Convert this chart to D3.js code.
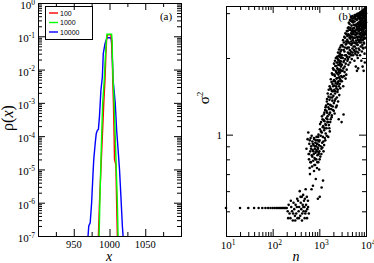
<!DOCTYPE html>
<html>
<head>
<meta charset="utf-8">
<title>rho(x) and sigma^2</title>
<style>
    html, body {margin: 0px; padding: 0px; overflow: hidden; background: #ffffff;}
    svg {display: block; font-family: "Liberation Serif", serif;}
    .frame {fill: none; stroke: #000; stroke-width: 1px;}
    .tick line {stroke: #000; stroke-width: 1px;}
    .domain {display: none;}
</style>
</head>
<body>
<div id="chart"></div>
<script src="https://cdnjs.cloudflare.com/ajax/libs/d3/7.8.5/d3.min.js"></script>
<script>
// panel (a): rho(x) for three run lengths, [x, rho]
var seriesNames = ["100", "1000", "10000"];
var seriesColors = ["#ff0000", "#00ff00", "#0000ff"];

var rho100 = [[984.5,1e-7],[986,1e-6],[988,1e-5],[990,1e-4],[992,1e-3],[993.7,5e-3],[995,3e-2],[996,0.08],
    [997,0.11],[1002,0.11],[1003,0.07],[1004,2e-2],[1004.5,5e-3],[1005.5,1e-3],[1006.5,1e-4],[1007,2e-5],
    [1008.5,1.5e-5],[1009,1.2e-5],[1010,1e-6],[1011,1e-7]];
var rho1000 = [[985.5,1e-7],[986.5,1e-6],[987.7,1e-5],[989,1e-4],[990.5,1e-3],[992.7,5e-3],[994,2e-2],[995.5,0.07],
    [996.5,0.115],[1003,0.115],[1003.7,0.07],[1004.2,2e-2],[1005,5e-3],[1006.5,1e-3],[1008,1e-4],[1009.5,1e-5],
    [1011,1e-6],[1012,1e-7]];
var rho10000 = [[970,1e-7],[971,2e-7],[973,2.5e-7],[975,1e-6],[977,8e-6],[978,2e-5],[980,6e-5],[981.5,1.2e-4],
    [983,1.5e-4],[984.5,1.6e-4],[986,4e-4],[988,2.4e-3],[990,6e-3],[991.3,3e-2],[993.7,6e-2],[996,0.085],
    [997,0.09],[1001.5,0.09],[1002.5,0.08],[1003.5,0.04],[1005,5e-3],[1008,1e-3],[1010,1.5e-4],[1012,4e-5],
    [1014,1e-5],[1016,1.5e-6],[1018,2e-7],[1019,1e-7]];

var xTicksA = [950, 1000, 1050];
var xMinorA = [925, 975, 1025, 1075];
var yExpA = [-7, -6, -5, -4, -3, -2, -1, 0];

// panel (b): sigma^2 against n, [n, sigma2]
var sigmaPoints = [
    [10,.515],[20,.515],[30,.515],[40,.515],[50,.515],[60,.515],[70,.515],[80,.515],[90,.515],[100,.515],
    [110,.515],[120,.515],[130,.515],[140,.515],[150,.515],[160,.515],[170,.515],[180,.515],[190,.515],[200,.515],
    [210,.50],[220,.53],[230,.49],[240,.47],[250,.52],[260,.50],[270,.46],[280,.54],[290,.51],[300,.48],
    [310,.53],[320,.49],[330,.52],[340,.47],[350,.55],[360,.50],[370,.52],[380,.60],[390,.48],[400,.54],
    [410,.51],[420,.57],[430,.49],[440,.53],[450,.58],[460,.50],[470,.55],[480,.52],[490,.56],[500,.49],
    [510,.61],[520,.53],[530,.88],[540,.57],[550,.51],[560,.96],[570,.55],[580,1.02],[590,.84],
    [215,.47],[245,.55],[275,.49],[305,.46],[335,.56],[365,.47],[395,.57],[425,.46],[455,.52],[485,.47],
    [515,.50],[545,.47],[575,.52],[595,.49],
    [600,.80],[610,.92],[620,.74],[630,.70],[640,.86],[650,.97],[660,.78],[670,.90],[680,.61],[690,.83],
    [700,.75],[710,.94],[720,.87],[730,.63],[740,.79],[750,.91],[760,.84],[770,.72],[780,.96],[790,.81],
    [800,.88],[810,.76],[820,.93],[830,.85],[840,.67],[850,.90],[860,.80],[870,.98],[880,.86],[890,.74],
    [900,.92],[910,.83],[920,.95],[930,.56],[940,.88],[950,.78],[960,1.00],[970,.84],[980,.91],[990,.73],
    [605,.84],[625,.95],[645,.78],[665,.88],[685,.99],[705,.82],[725,.92],[745,.86],[765,.97],[785,.76],
    [805,.90],[825,.80],[845,.95],[865,.87],[885,.92],[905,.78],[925,.89],[945,.98],[965,.85],[985,.94],
    [1000,.86],[1020,.57],[1120,.62],[1200,.66],
    [1010,.95],[1030,1.05],[1050,.82],[1070,.99],[1090,1.12],[1110,.88],[1130,1.02],[1150,.93],[1170,1.15],
    [1190,.98],[1210,1.08],[1230,.86],[1250,1.20],[1270,1.04],[1290,1.13],[1310,.97],[1330,1.25],[1350,1.10],
    [1370,1.01],[1390,1.30],[1410,1.16],[1430,1.06],[1450,1.35],[1470,1.22],[1490,1.12],
    [1015,.80],[1040,1.10],[1065,.90],[1085,1.03],[1105,.84],[1140,1.18],[1160,.89],[1185,1.07],[1220,.94],
    [1240,1.14],[1265,.91],[1285,1.22],[1305,1.06],[1340,.95],[1360,1.28],[1385,1.09],[1420,1.24],[1440,.99],
    [1460,1.38],[1485,1.15],
    [1500,1.18],[1525,1.32],[1550,0.98],[1575,1.41],[1600,1.09],[1625,1.26],[1650,1.37],[1675,1.03],[1700,1.22],
    [1725,1.52],[1750,1.15],[1775,1.44],[1800,1.30],[1825,1.61],[1850,1.19],[1875,1.48],[1900,1.36],[1925,1.72],
    [1950,1.25],[1975,1.55],[2000,1.42],[2025,1.80],[2050,1.33],[2075,1.64],[2100,1.50],[2125,1.21],[2150,1.70],
    [2175,1.45],[2200,1.86],[2225,1.38],[2250,1.59],[2275,1.28],[2300,1.76],[2325,1.52],[2350,1.92],[2375,1.40],
    [2400,1.67],[2425,1.82],[2450,1.47],[2475,1.98],[2500,1.60],[2525,1.35],[2550,1.88],[2575,1.72],[2600,2.04],
    [2625,1.55],[2650,1.80],[2675,1.43],[2700,1.95],[2725,1.66],[2750,2.08],[2775,1.75],[2800,1.52],[2825,1.90],
    [2850,2.12],[2875,1.62],[2900,1.85],[2925,2.00],[2950,1.70],[2975,2.15],[2600,1.15],[3000,1.12],[3300,1.20],
    [1512,1.45],[1537,1.12],[1562,1.28],[1587,1.50],[1612,1.20],[1637,1.06],[1662,1.55],[1687,1.31],[1712,1.12],
    [1737,1.40],[1762,1.65],[1787,1.26],[1812,1.50],[1837,1.17],[1862,1.74],[1887,1.40],[1912,1.58],[1937,1.29],
    [1962,1.82],[1987,1.48],[2012,1.62],[2037,1.24],[2062,1.90],[2087,1.56],[2112,1.72],[2137,1.36],[2162,1.95],
    [2187,1.62],[2212,1.48],[2237,1.78],[2262,2.00],[2287,1.55],[2312,1.86],[2337,1.66],[2362,1.30],[2387,2.02],
    [2412,1.74],[2437,1.58],[2462,1.92],[2487,1.50],[2512,2.10],[2537,1.80],[2562,1.62],[2587,1.96],[2612,1.76],
    [2637,2.16],[2662,1.68],[2687,1.88],[2712,2.02],[2737,1.58],[2762,1.92],[2787,2.20],[2812,1.80],[2837,1.64],
    [2862,2.06],[2887,1.94],[2912,2.24],[2937,1.78],[2962,2.04],[2987,1.88],
    [3050,1.62],[3100,2.05],[3150,1.78],[3200,2.22],[3250,1.55],[3300,1.93],[3350,2.30],[3400,1.70],[3450,2.12],
    [3500,1.85],[3550,2.40],[3600,1.98],[3650,1.66],[3700,2.26],[3750,2.05],[3800,2.48],[3850,1.80],[3900,2.18],
    [3950,2.36],[4000,1.95],
    [3025,1.88],[3075,2.25],[3125,1.68],[3175,2.00],[3225,2.35],[3275,1.82],[3325,2.15],[3375,1.95],[3425,2.42],
    [3475,1.76],[3525,2.20],[3575,2.05],[3625,2.50],[3675,1.90],[3725,2.32],[3775,1.72],[3825,2.28],[3875,2.55],
    [3925,2.02],[3975,2.44],
    [4050,2.55],[4100,2.10],[4150,2.32],[4200,1.88],[4250,2.64],[4300,2.20],[4350,2.45],[4400,2.02],[4450,2.72],
    [4500,2.28],[4550,1.92],[4600,2.58],[4650,2.38],[4700,2.80],[4750,2.12],[4800,2.50],[4850,2.25],[4900,2.68],
    [4950,1.98],[5000,2.42],[5050,2.85],[5100,2.18],[5150,2.60],[5200,2.35],[5250,2.76],[5300,2.05],[5350,2.52],
    [5400,2.30],[5450,2.88],[5500,2.15],
    [4025,2.20],[4075,2.62],[4125,1.98],[4175,2.48],[4225,2.30],[4275,2.75],[4325,2.08],[4375,2.58],[4425,2.40],
    [4475,2.15],[4525,2.82],[4575,2.45],[4625,2.08],[4675,2.62],[4725,2.42],[4775,2.90],[4825,2.32],[4875,2.05],
    [4925,2.55],[4975,2.78],[5025,2.28],[5075,2.48],[5125,2.92],[5175,2.10],[5225,2.55],[5275,2.40],[5325,2.80],
    [5375,2.62],[5425,2.22],[5475,2.70],
    [5550,2.62],[5600,2.40],[5650,1.95],[5700,2.78],[5750,2.22],[5800,2.55],[5850,2.90],[5900,2.08],[5950,2.46],
    [6000,2.70],[6050,1.85],[6100,2.34],[6150,2.95],[6200,2.58],[6250,2.12],[6300,2.82],[6350,2.42],[6400,1.78],
    [6450,2.66],[6500,2.26],[6550,2.98],[6600,2.50],[6650,2.00],[6700,2.74],[6750,2.36],[6800,1.82],[6850,2.88],
    [6900,2.55],[6950,2.18],[7000,2.70],
    [5525,2.48],[5575,2.86],[5625,2.30],[5675,2.56],[5725,2.95],[5775,2.40],[5825,2.12],[5875,2.68],[5925,2.85],
    [5975,2.28],[6025,2.52],[6075,2.92],[6125,2.18],[6175,2.70],[6225,2.48],[6275,2.96],[6325,2.30],[6375,2.62],
    [6425,2.05],[6475,2.84],[6525,2.40],[6575,2.72],[6625,2.25],[6675,2.92],[6725,2.58],[6775,2.10],[6825,2.66],
    [6875,2.42],[6925,2.98],[6975,2.35],
    [7050,2.90],[7100,2.32],[7150,2.62],[7200,3.00],[7250,2.15],[7300,2.78],[7350,2.48],[7400,2.92],[7450,2.05],
    [7500,2.68],[7550,3.02],[7600,2.40],[7650,2.84],[7700,2.22],[7750,2.58],[7800,2.96],[7850,2.30],[7900,2.75],
    [7950,1.95],[8000,2.52],[8050,3.05],[8100,2.64],[8150,2.12],[8200,2.88],[8250,2.44],[8300,3.00],[8350,2.25],
    [8400,2.70],[8450,1.85],[8500,2.95],[8550,2.55],[8600,2.36],[8650,3.08],[8700,2.80],[8750,2.18],[8800,2.62],
    [8850,2.98],[8900,1.78],[8950,2.46],[9000,2.86],[9050,3.10],[9100,2.28],[9150,2.72],[9200,2.52],[9250,3.02],
    [9300,2.08],[9350,2.90],[9400,2.62],[9450,1.92],[9500,2.80],[9550,3.12],[9600,2.40],[9650,2.95],[9700,2.68],
    [9750,2.20],[9800,3.06],[9850,2.85],[9900,2.56],[9950,3.14],[10000,2.76],
    [7025,2.55],[7075,2.75],[7125,2.42],[7175,2.86],[7225,2.60],[7275,2.30],[7325,2.95],[7375,2.68],[7425,2.50],
    [7475,2.88],[7525,2.35],[7575,2.72],[7625,3.00],[7675,2.58],[7725,2.82],[7775,2.45],[7825,2.68],[7875,2.98],
    [7925,2.40],[7975,2.85],[8025,2.60],[8075,2.78],[8125,2.95],[8175,2.50],[8225,2.72],[8275,2.35],[8325,2.82],
    [8375,3.05],[8425,2.58],[8475,2.20],[8525,2.76],[8575,2.90],[8625,2.48],[8675,2.65],[8725,3.02],[8775,2.40],
    [8825,2.78],[8875,2.58],[8925,2.95],[8975,2.30],[9025,2.68],[9075,2.88],[9125,2.45],[9175,3.00],[9225,2.62],
    [9275,2.78],[9325,2.38],[9375,3.08],[9425,2.72],[9475,2.50],[9525,2.92],[9575,2.65],[9625,2.82],[9675,3.10],
    [9725,2.48],[9775,2.75],[9825,2.95],[9875,2.62],[9925,2.82],[9975,3.00]
];

var xExpB = [1, 2, 3, 4];
var yMajorB = [1];
var yMinorB = [0.5, 0.6, 0.7, 0.8, 0.9, 2, 3];

var W = 374, H = 263;

var svg = d3.select("#chart").append("svg")
    .attr("width", W)
    .attr("height", H);

// scales
var xA = d3.scaleLinear().domain([900, 1100]).range([38, 181]);
var yA = d3.scaleLog().domain([1e-7, 1]).range([236, 3]);
var xB = d3.scaleLog().domain([10, 1e4]).range([226, 366]);
var yB = d3.scaleLog().domain([0.4, 3.2]).range([236, 6]);

function minorLog(e0, e1) {
    var out = [];
    for (var e = e0; e < e1; e++)
        for (var k = 2; k < 10; k++) out.push(k * Math.pow(10, e));
    return out;
}

// draws ticks on all four sides, pointing inward
function frameTicks(g, x, y, xMajor, xMinor, yMajor, yMinor) {
    var x0 = x.range()[0], x1 = x.range()[1], y0 = y.range()[0], y1 = y.range()[1];
    var sets = [
        [d3.axisBottom(x), "translate(0," + y0 + ")", xMajor, xMinor],
        [d3.axisTop(x), "translate(0," + y1 + ")", xMajor, xMinor],
        [d3.axisLeft(y), "translate(" + x0 + ",0)", yMajor, yMinor],
        [d3.axisRight(y), "translate(" + x1 + ",0)", yMajor, yMinor]
    ];
    sets.forEach(function(s) {
        g.append("g").attr("transform", s[1])
            .call(s[0].tickValues(s[2]).tickSize(-7).tickFormat(""));
        g.append("g").attr("transform", s[1])
            .call(s[0].tickValues(s[3]).tickSize(-4).tickFormat(""));
    });
    g.append("rect").attr("class", "frame")
        .attr("x", x0 + 0.5).attr("y", y1 + 0.5)
        .attr("width", x1 - x0).attr("height", y0 - y1);
}

function powLabel(g, px, py, anchor, exp) {
    var t = g.append("text")
        .attr("x", px).attr("y", py)
        .attr("text-anchor", anchor)
        .style("font-size", "11px");
    t.append("tspan").text("10");
    t.append("tspan").attr("dy", -4.5).style("font-size", "7.5px").text(exp);
}

// ---------- panel (a)
var ga = svg.append("g");

svg.append("clipPath").attr("id", "clipA")
  .append("rect").attr("x", 38).attr("y", 3).attr("width", 143).attr("height", 233);

var line = d3.line()
    .x(function(d) { return xA(d[0]); })
    .y(function(d) { return yA(d[1]); });

var curves = [rho10000, rho100, rho1000];
var curveColors = [seriesColors[2], seriesColors[0], seriesColors[1]];
ga.append("g").attr("clip-path", "url(#clipA)")
  .selectAll("path")
    .data(curves)
  .enter().append("path")
    .attr("d", line)
    .attr("fill", "none")
    .attr("stroke", function(d, i) { return curveColors[i]; })
    .attr("stroke-width", 1.4);

frameTicks(ga, xA, yA, xTicksA, xMinorA,
    yExpA.map(function(e) { return Math.pow(10, e); }), minorLog(-7, 0));

xTicksA.forEach(function(v) {
    ga.append("text").attr("x", xA(v)).attr("y", 248)
        .attr("text-anchor", "middle").style("font-size", "10.5px").text(v);
});
yExpA.forEach(function(e) {
    powLabel(ga, 35, yA(Math.pow(10, e)) + 6, "end", e);
});

ga.append("text")
    .attr("transform", "translate(13,118) rotate(-90)")
    .attr("text-anchor", "middle")
    .style("font-size", "16px")
    .html("&#961;(<tspan font-style='italic'>x</tspan>)");
ga.append("text").attr("x", 109).attr("y", 261)
    .attr("text-anchor", "middle").style("font-size", "14px").style("font-style", "italic").text("x");
ga.append("text").attr("x", 166).attr("y", 20)
    .attr("text-anchor", "middle").style("font-size", "11px").text("(a)");

// legend
var lg = ga.append("g");
lg.append("rect").attr("class", "frame")
    .attr("x", 45.5).attr("y", 6.5).attr("width", 47).attr("height", 33);
seriesNames.forEach(function(name, i) {
    var ly = 13 + i * 9.5;
    lg.append("line").attr("x1", 49).attr("x2", 58).attr("y1", ly).attr("y2", ly)
        .attr("stroke", seriesColors[i]).attr("stroke-width", 1.4);
    lg.append("text").attr("x", 60).attr("y", ly + 2.5)
        .style("font-family", "'Liberation Sans', sans-serif").style("font-size", "7px").text(name);
});

// ---------- panel (b)
var gb = svg.append("g");

gb.selectAll(".dot")
    .data(sigmaPoints)
  .enter().append("circle")
    .attr("class", "dot")
    .attr("cx", function(d) { return xB(d[0]); })
    .attr("cy", function(d) { return yB(d[1]); })
    .attr("r", 1.3)
    .attr("fill", "#000");

frameTicks(gb, xB, yB,
    xExpB.map(function(e) { return Math.pow(10, e); }), minorLog(1, 4), yMajorB, yMinorB);

xExpB.forEach(function(e) {
    powLabel(gb, xB(Math.pow(10, e)) + 2, 249, "middle", e);
});
yMajorB.forEach(function(v) {
    gb.append("text").attr("x", 222).attr("y", yB(v) + 4)
        .attr("text-anchor", "end").style("font-size", "11px").text(v);
});

var sl = gb.append("text")
    .attr("transform", "translate(209,98) rotate(-90)")
    .attr("text-anchor", "middle")
    .style("font-size", "15px");
sl.append("tspan").text("\u03c3");
sl.append("tspan").attr("dy", -6).style("font-size", "9px").text("2");

gb.append("text").attr("x", 296).attr("y", 261)
    .attr("text-anchor", "middle").style("font-size", "14px").style("font-style", "italic").text("n");
gb.append("text").attr("x", 345).attr("y", 20)
    .attr("text-anchor", "middle").style("font-size", "11px").text("(b)");
</script>
</body>
</html>
